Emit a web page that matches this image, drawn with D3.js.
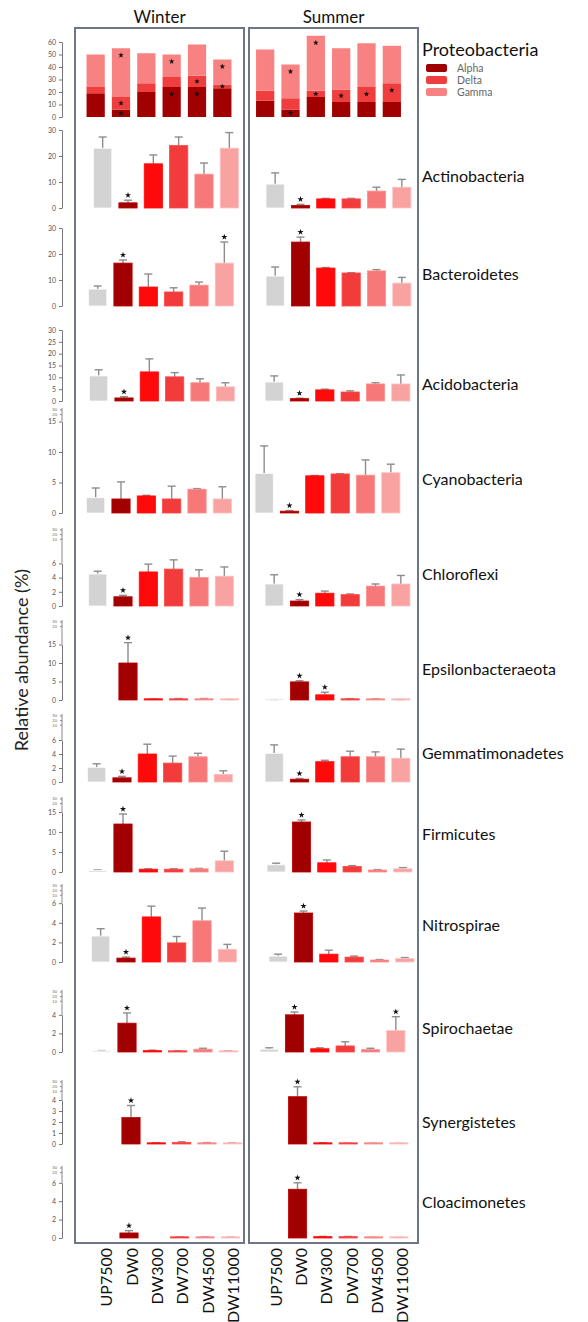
<!DOCTYPE html>
<html>
<head>
<meta charset="utf-8">
<script src="https://cdn.jsdelivr.net/npm/d3@7"></script>
<style>
  body { margin: 0; background: #fff; }
  svg { display: block; font-family: Lato, "Open Sans", sans-serif; }
</style>
</head>
<body>
<svg id="chart" width="588" height="1322"></svg>
<script>
// ---------- data (relative abundance, %) ----------
const sites = ["UP7500", "DW0", "DW300", "DW700", "DW4500", "DW11000"];
const seasons = ["Winter", "Summer"];

// Proteobacteria, stacked by class
const proteoClasses = ["Alpha", "Delta", "Gamma"];
const proteoWinterAlpha = [19, 6, 20, 24, 24, 23];
const proteoWinterDelta = [5.5, 10, 7, 8, 9, 3];
const proteoWinterGamma = [25.5, 39, 24, 18, 25, 20];
const proteoSummerAlpha = [13, 6, 16, 12, 12, 12];
const proteoSummerDelta = [8, 9, 5, 10, 12, 15];
const proteoSummerGamma = [33, 27, 44, 33, 35, 30];
// classes flagged significant at each site (a = Alpha, d = Delta, g = Gamma)
const proteoWinterSig = ["", "adg", "", "ag", "ad", "dg"];
const proteoSummerSig = ["", "ag", "dg", "d", "d", "d"];

// Other phyla: mean and standard deviation per site
const phyla = ["Actinobacteria", "Bacteroidetes", "Acidobacteria", "Cyanobacteria",
  "Chloroflexi", "Epsilonbacteraeota", "Gemmatimonadetes", "Firmicutes",
  "Nitrospirae", "Spirochaetae", "Synergistetes", "Cloacimonetes"];

const winterMeans = [
  [23, 2, 17, 24, 13, 23],
  [6.5, 16.5, 7.3, 5.4, 8, 16.5],
  [10.6, 1.3, 12.3, 10.2, 7.7, 6],
  [2.5, 2.3, 2.8, 2.3, 3.9, 2.3],
  [4.5, 1.3, 4.8, 5.2, 4, 4.2],
  [0, 10, 0.2, 0.3, 0.3, 0.1],
  [2.1, 0.6, 4, 2.7, 3.6, 1.1],
  [0.4, 12, 0.7, 0.7, 0.8, 2.8],
  [2.65, 0.4, 4.6, 1.95, 4.2, 1.3],
  [0.1, 3.1, 0.15, 0.1, 0.3, 0.1],
  [0, 2.4, 0.1, 0.15, 0.1, 0.1],
  [0, 0.55, 0, 0.1, 0.1, 0.08]
];
const winterSD = [
  [4.3, 1, 3.4, 3.3, 4.3, 6],
  [1.2, 1.2, 5, 1.6, 1.2, 8.1],
  [2.6, 0.5, 5.5, 1.8, 1.7, 1.7],
  [1.6, 2.8, 0.1, 2.1, 0.1, 2.0],
  [0.4, 0.2, 1.1, 1.3, 1.1, 1.3],
  [0, 5.5, 0.05, 0.1, 0.1, 0.05],
  [0.5, 0.2, 1.4, 1.0, 0.5, 0.5],
  [0.1, 2.5, 0.1, 0.1, 0.1, 2.4],
  [0.75, 0.1, 1.1, 0.65, 1.3, 0.5],
  [0.05, 1.1, 0.05, 0.03, 0.1, 0.03],
  [0, 1.1, 0.02, 0.05, 0.03, 0.02],
  [0, 0.25, 0, 0.02, 0.02, 0.02]
];
// indices of sites marked significant
const winterSig = [[1], [1, 5], [1], [], [1], [1], [1], [1], [1], [1], [1], [1]];

const summerMeans = [
  [9.2, 1, 3.5, 3.5, 6.5, 8],
  [11.5, 24.6, 14.6, 12.7, 13.5, 8.8],
  [8, 1, 4.7, 3.8, 7.2, 7.2],
  [6.5, 0.3, 6.1, 6.4, 6.2, 6.6],
  [3.1, 0.7, 1.8, 1.6, 2.8, 3.1],
  [0.1, 4.9, 1.4, 0.3, 0.3, 0.1],
  [4.1, 0.4, 2.9, 3.6, 3.6, 3.4],
  [1.8, 12.5, 2.3, 1.4, 0.5, 0.8],
  [0.6, 5, 0.8, 0.5, 0.2, 0.35],
  [0.3, 4, 0.35, 0.65, 0.25, 2.3],
  [0, 4.3, 0.1, 0.05, 0.05, 0.05],
  [0, 5.3, 0.15, 0.15, 0.05, 0.05]
];
const summerSD = [
  [4.3, 0.4, 0.2, 0.2, 1.5, 3],
  [3.5, 1.9, 0.2, 0.1, 0.5, 2.2],
  [2.6, 0.2, 0.3, 0.5, 0.5, 3.8],
  [4.5, 0.1, 0.05, 0.05, 2.5, 1.4],
  [1.3, 0.2, 0.3, 0.1, 0.3, 1.2],
  [0.02, 0.3, 0.7, 0.05, 0.05, 0.02],
  [1.2, 0.1, 0.2, 0.8, 0.7, 1.3],
  [0.4, 0.5, 0.7, 0.2, 0.1, 0.3],
  [0.2, 0.2, 0.4, 0.1, 0.05, 0.1],
  [0.15, 0.3, 0.1, 0.45, 0.15, 1.5],
  [0, 0.9, 0.02, 0.02, 0.01, 0.01],
  [0, 0.7, 0.02, 0.02, 0.01, 0.01]
];
const summerSig = [[1], [1], [1], [1], [1], [1, 2], [1], [1], [1], [1, 5], [1], [1]];

// y tick labels per row (Proteobacteria first), plus the squeezed labels above them
const axisTicks = [
  [0, 10, 20, 30, 40, 50, 60],
  [0, 10, 20, 30], [0, 10, 20, 30], [0, 5, 10, 15, 20, 25, 30],
  [0, 5, 10, 15], [0, 2, 4, 6], [0, 5, 10, 15], [0, 2, 4, 6],
  [0, 5, 10, 15], [0, 2, 4, 6], [0, 2, 4], [0, 1, 2, 3, 4], [0, 2, 4, 6]
];
const axisCrowd = [
  [], [], [], [],
  ["30", "20"], ["30", "20", "10"], ["30", "20"], ["30", "20", "10"],
  ["30", "20"], ["30", "20", "10"], ["30", "20", "10"], ["30", "20", "10"], ["30", "20"]
];

// ---------- layout ----------
// per row: baseline, pixel top of scale, scale max, top of axis, label y, bar shifts
const rowLayout = [
  { base: 117, top: 42, max: 60, axisTop: 40, labelY: 50, dxW: -2, dxS: -1 },
  { base: 208, top: 130, max: 30, axisTop: 128, labelY: 176, dxW: 5, dxS: 9 },
  { base: 306, top: 228, max: 30, axisTop: 222, labelY: 274, dxW: 0, dxS: 9 },
  { base: 401, top: 330, max: 30, axisTop: 322, labelY: 384, dxW: 1, dxS: 8 },
  { base: 513, top: 421.5, max: 15, axisTop: 408, labelY: 479, dxW: -2, dxS: -2 },
  { base: 606, top: 563.4, max: 6, axisTop: 528, labelY: 574, dxW: 0, dxS: 8 },
  { base: 700, top: 644.5, max: 15, axisTop: 620, labelY: 669, dxW: 5, dxS: 8 },
  { base: 782, top: 740, max: 6, axisTop: 714, labelY: 753, dxW: -1, dxS: 8 },
  { base: 872, top: 812, max: 15, axisTop: 797, labelY: 834, dxW: 0, dxS: 10 },
  { base: 962, top: 903.2, max: 6, axisTop: 884, labelY: 925, dxW: 3, dxS: 12 },
  { base: 1052, top: 1014.8, max: 4, axisTop: 990, labelY: 1028, dxW: 4, dxS: 3 },
  { base: 1144, top: 1100, max: 4, axisTop: 1080, labelY: 1122, dxW: 8, dxS: 6 },
  { base: 1238, top: 1182.8, max: 6, axisTop: 1166, labelY: 1202, dxW: 6, dxS: 6 }
];

const siteColor = d3.scaleOrdinal().domain(sites)
  .range(["#d3d3d3", "#a00000", "#ff0a0a", "#f23b3b", "#f77878", "#f8a2a2"]);
const classColor = d3.scaleOrdinal().domain(proteoClasses)
  .range(["#a00000", "#f03e3e", "#f88282"]);

const svg = d3.select("#chart");

const panels = [
  { season: "Winter", x0: 75, x1: 244 },
  { season: "Summer", x0: 249, x1: 418 }
];
const xScales = {
  Winter: d3.scaleBand().domain(sites).range([85, 237]).paddingInner(0.28).paddingOuter(0.14),
  Summer: d3.scaleBand().domain(sites).range([253.5, 405.5]).paddingInner(0.28).paddingOuter(0.14)
};

// panel frames and titles
panels.forEach(p => {
  svg.append("rect")
    .attr("x", p.x0).attr("y", 28).attr("width", p.x1 - p.x0).attr("height", 1215)
    .attr("fill", "none").attr("stroke", "#6e7686").attr("stroke-width", 2);
  svg.append("text")
    .attr("x", (p.x0 + p.x1) / 2).attr("y", 23)
    .attr("text-anchor", "middle").attr("font-size", 17).attr("fill", "#111")
    .text(p.season);
});

// y axis for one row
function drawAxis(y, ticks, crowd, L) {
  const g = svg.append("g").attr("transform", "translate(62,0)")
    .call(d3.axisLeft(y).tickValues(ticks).tickFormat(d3.format("d"))
      .tickSize(3).tickPadding(3).tickSizeOuter(0));
  g.selectAll("text").attr("font-size", 7).attr("fill", "#555").attr("font-family", "Lato, sans-serif");
  g.selectAll("line").attr("stroke", "#777");
  g.select(".domain").attr("stroke", "#777");
  if (crowd.length) {
    g.append("line").attr("x1", 0).attr("x2", 0)
      .attr("y1", L.axisTop).attr("y2", y.range()[1]).attr("stroke", "#888");
    crowd.forEach((t, k) => {
      const yy = L.axisTop + 2 + k * 4.6;
      g.append("line").attr("x1", -2).attr("x2", 0).attr("y1", yy).attr("y2", yy).attr("stroke", "#888");
      g.append("text").attr("x", -5).attr("y", yy).attr("dy", "0.32em")
        .attr("text-anchor", "end").attr("font-size", 4.2).attr("fill", "#666").text(t);
    });
  }
}

// ---------- Proteobacteria (stacked) ----------
{
  const L = rowLayout[0];
  const y = d3.scaleLinear().domain([0, L.max]).range([L.base, L.top]);
  drawAxis(y, axisTicks[0], axisCrowd[0], L);
  const seasonData = {
    Winter: { a: proteoWinterAlpha, d: proteoWinterDelta, g: proteoWinterGamma, sig: proteoWinterSig, dx: L.dxW },
    Summer: { a: proteoSummerAlpha, d: proteoSummerDelta, g: proteoSummerGamma, sig: proteoSummerSig, dx: L.dxS }
  };
  const stack = d3.stack().keys(proteoClasses);
  seasons.forEach(season => {
    const S = seasonData[season];
    const x = xScales[season];
    const rows = sites.map((s, k) => ({ site: s, Alpha: S.a[k], Delta: S.d[k], Gamma: S.g[k], sig: S.sig[k] }));
    const series = stack(rows);
    const g = svg.append("g").attr("transform", `translate(${S.dx},0)`);
    g.selectAll("g.layer").data(series).join("g").attr("class", "layer")
      .attr("fill", d => classColor(d.key))
      .selectAll("rect").data(d => d).join("rect")
      .attr("x", d => x(d.data.site)).attr("width", x.bandwidth())
      .attr("y", d => y(d[1])).attr("height", d => y(d[0]) - y(d[1]));
    // significance marks inside the flagged segments
    const marks = [];
    series.forEach(layer => {
      const code = layer.key[0].toLowerCase();
      layer.forEach(d => {
        if (d.data.sig.includes(code)) {
          const top = y(d[1]), h = y(d[0]) - y(d[1]);
          marks.push({ site: d.data.site, yy: top + Math.min(7, h / 2) });
        }
      });
    });
    g.selectAll("path.sig").data(marks).join("path").attr("class", "sig")
      .attr("d", d3.symbol(d3.symbolStar, 10))
      .attr("transform", d => `translate(${x(d.site) + x.bandwidth() / 2},${d.yy})`)
      .attr("fill", "#111");
  });

  // label and legend
  svg.append("text").attr("x", 422).attr("y", L.labelY).attr("dy", "0.35em")
    .attr("font-size", 18).attr("fill", "#111").text("Proteobacteria");
  const lg = svg.append("g").attr("transform", "translate(426,64)");
  proteoClasses.forEach((c, k) => {
    lg.append("rect").attr("x", 0).attr("y", k * 12).attr("width", 21).attr("height", 8)
      .attr("rx", 2).attr("fill", classColor(c));
    lg.append("text").attr("x", 31).attr("y", k * 12 + 4).attr("dy", "0.35em")
      .attr("font-size", 10.5).attr("fill", "#666").text(c);
  });
}

// ---------- remaining phyla ----------
phyla.forEach((name, i) => {
  const L = rowLayout[i + 1];
  const y = d3.scaleLinear().domain([0, L.max]).range([L.base, L.top]);
  drawAxis(y, axisTicks[i + 1], axisCrowd[i + 1], L);

  const seasonData = {
    Winter: { m: winterMeans[i], sd: winterSD[i], sig: winterSig[i], dx: L.dxW },
    Summer: { m: summerMeans[i], sd: summerSD[i], sig: summerSig[i], dx: L.dxS }
  };
  seasons.forEach(season => {
    const S = seasonData[season];
    const x = xScales[season];
    const data = sites.map((s, k) => ({ site: s, v: S.m[k], sd: S.sd[k], sig: S.sig.includes(k) }))
      .filter(d => d.v > 0);
    const g = svg.append("g").attr("transform", `translate(${S.dx},0)`);
    const cx = d => x(d.site) + x.bandwidth() / 2;

    // error bars (upper whisker)
    const eb = g.selectAll("g.err").data(data.filter(d => d.sd > 0)).join("g").attr("class", "err")
      .attr("stroke", "#8d8d8d").attr("stroke-width", 1.4);
    eb.append("line").attr("x1", cx).attr("x2", cx)
      .attr("y1", d => y(d.v)).attr("y2", d => y(d.v + d.sd));
    eb.append("line").attr("x1", d => cx(d) - 4).attr("x2", d => cx(d) + 4)
      .attr("y1", d => y(d.v + d.sd)).attr("y2", d => y(d.v + d.sd));

    // bars
    g.selectAll("rect").data(data).join("rect")
      .attr("x", d => x(d.site)).attr("width", x.bandwidth())
      .attr("y", d => Math.min(y(d.v), y(0) - 1.2))
      .attr("height", d => Math.max(1.2, y(0) - y(d.v)))
      .attr("fill", d => siteColor(d.site))
      .attr("stroke", d => d3.color(siteColor(d.site)).brighter(0.5))
      .attr("stroke-width", 0.8);

    // significance marks
    g.selectAll("path.sig").data(data.filter(d => d.sig)).join("path").attr("class", "sig")
      .attr("d", d3.symbol(d3.symbolStar, 12))
      .attr("transform", d => `translate(${cx(d)},${y(d.v + d.sd) - 5})`)
      .attr("fill", "#111");
  });

  svg.append("text").attr("x", 422).attr("y", L.labelY).attr("dy", "0.35em")
    .attr("font-size", 16).attr("fill", "#111").text(name);
});

// ---------- site labels along the bottom ----------
seasons.forEach(season => {
  const x = xScales[season];
  const shift = season === "Winter" ? 9 : 10;
  svg.append("g").selectAll("text").data(sites).join("text")
    .attr("transform", d => `translate(${x(d) + x.bandwidth() / 2 + shift},1248) rotate(-90)`)
    .attr("dy", "0.35em").attr("text-anchor", "end")
    .attr("font-size", 16).attr("fill", "#111").text(d => d);
});

// ---------- y axis title ----------
svg.append("text")
  .attr("transform", "translate(22,660) rotate(-90)")
  .attr("text-anchor", "middle").attr("dy", "0.35em")
  .attr("font-size", 18).attr("fill", "#222")
  .text("Relative abundance (%)");
</script>
</body>
</html>
